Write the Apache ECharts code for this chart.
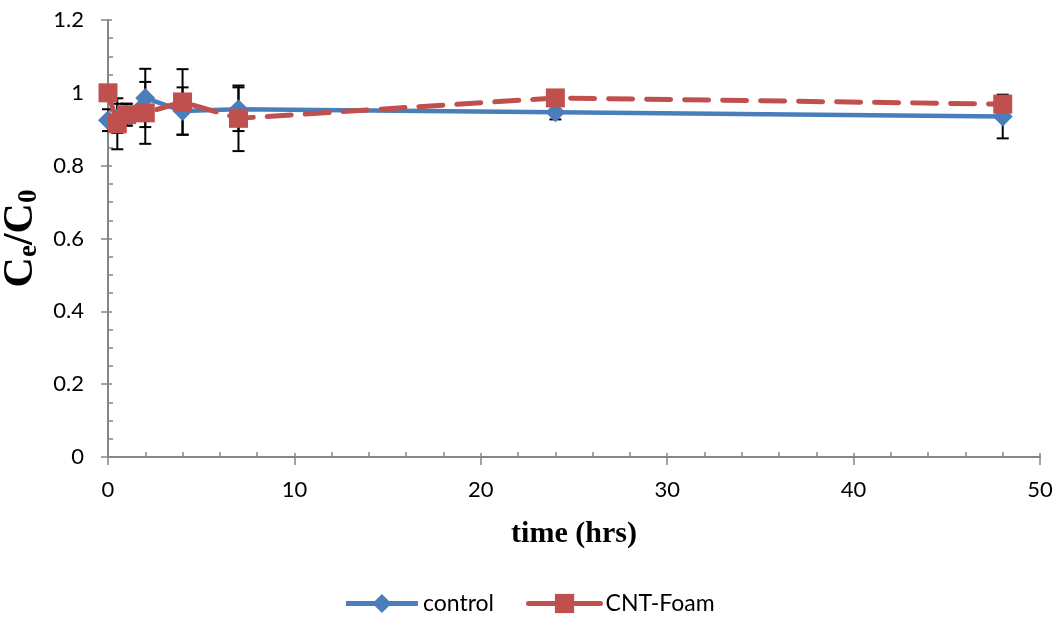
<!DOCTYPE html>
<html>
<head>
<meta charset="utf-8">
<script src="https://cdn.jsdelivr.net/npm/echarts@6/dist/echarts.min.js"></script>
<style>html,body{margin:0;padding:0;background:#fff}#c{width:1058px;height:620px}</style>
</head>
<body>
<div id="c"></div>
<script>
const timeControl = [0, 0.5, 1, 2, 4, 7, 24, 48];
const control     = [0.925, 0.93, 0.94, 0.986, 0.95, 0.955, 0.947, 0.935];
const controlErr  = [0.03, 0.04, 0.03, 0.08, 0.065, 0.06, 0.02, 0.06];

const timeCNT = [0, 0.5, 1, 2, 4, 7, 24, 48];
const cnt     = [1.0, 0.915, 0.94, 0.945, 0.975, 0.93, 0.986, 0.969];
const cntErr  = [0.02, 0.07, 0.03, 0.085, 0.09, 0.09, 0.01, 0.01];

const xTicks = [0, 10, 20, 30, 40, 50];
const yTicks = [0, 0.2, 0.4, 0.6, 0.8, 1, 1.2];

const BLUE = '#4a7ebb', RED = '#c0504d', AX = '#868686';
const labelFont = 'Lato, "Open Sans", sans-serif';
const serif = '"Liberation Serif", "Times New Roman", serif';

function errData(t, v, e) { return t.map((x, i) => [x, v[i] - e[i], v[i] + e[i]]); }
function errSeries(data) {
  return {
    type: 'custom', z: 1, silent: true,
    renderItem: function (params, api) {
      const lo = api.coord([api.value(0), api.value(1)]);
      const hi = api.coord([api.value(0), api.value(2)]);
      const w = 6;
      const st = { stroke: '#000', lineWidth: 2 };
      return { type: 'group', children: [
        { type: 'line', shape: { x1: lo[0], y1: lo[1], x2: hi[0], y2: hi[1] }, style: st },
        { type: 'line', shape: { x1: lo[0] - w, y1: lo[1], x2: lo[0] + w, y2: lo[1] }, style: st },
        { type: 'line', shape: { x1: hi[0] - w, y1: hi[1], x2: hi[0] + w, y2: hi[1] }, style: st }
      ]};
    },
    encode: { x: 0, y: [1, 2] },
    data: data
  };
}

const chart = echarts.init(document.getElementById('c'));
chart.setOption({
  animation: false,
  grid: { left: 108, right: 18, top: 20, bottom: 163, containLabel: false, outerBoundsMode: 'none' },
  legend: {
    bottom: 0, left: 'center', itemWidth: 72, itemHeight: 24, itemGap: 32,
    textStyle: { fontFamily: labelFont, fontSize: 23, color: '#000' },
    data: [
      { name: 'control', lineStyle: { width: 5 } },
      { name: 'CNT-Foam', lineStyle: { width: 5, type: 'solid' } }
    ]
  },
  xAxis: [{
    type: 'value', min: 0, max: 50, interval: 10,
    name: 'time (hrs)', nameLocation: 'middle', nameGap: 62,
    nameTextStyle: { fontFamily: serif, fontWeight: 'bold', fontSize: 30, color: '#000' },
    axisLine: { lineStyle: { color: AX, width: 2 } },
    axisTick: { show: true, inside: false, length: 8, lineStyle: { color: AX, width: 1.5 } },
    axisLabel: { fontFamily: labelFont, fontSize: 22, color: '#000', margin: 22,
      formatter: v => xTicks.includes(v) ? String(v) : '' },
    splitLine: { show: false }
  }, {
    type: 'value', min: 0, max: 50, interval: 10, position: 'bottom',
    axisLine: { show: false },
    axisTick: { show: true, inside: true, length: 4, lineStyle: { color: AX, width: 1.5 } },
    minorTick: { show: true, splitNumber: 5, length: 5, lineStyle: { color: AX, width: 1.5 } },
    axisLabel: { show: false }, splitLine: { show: false }
  }],
  yAxis: [{
    type: 'value', min: 0, max: 1.2, interval: 0.2,
    name: '{a|C}{s|e}{a|/C}{s|0}', nameLocation: 'middle', nameGap: 55, nameRotate: 90,
    nameTextStyle: { rich: {
      a: { fontFamily: serif, fontWeight: 'bold', fontSize: 42, color: '#000' },
      s: { fontFamily: serif, fontWeight: 'bold', fontSize: 27, color: '#000', verticalAlign: 'bottom', padding: [16, 0, 0, 0] }
    }},
    axisLine: { lineStyle: { color: AX, width: 2 } },
    axisTick: { show: true, inside: false, length: 7, lineStyle: { color: AX, width: 1.5 } },
    axisLabel: { fontFamily: labelFont, fontSize: 22, color: '#000', margin: 24,
      formatter: v => { const r = Math.round(v * 10) / 10; return yTicks.includes(r) ? String(r) : ''; } },
    splitLine: { show: false }
  }, {
    type: 'value', min: 0, max: 1.2, interval: 0.2, position: 'left',
    axisLine: { show: false },
    axisTick: { show: true, inside: true, length: 4, lineStyle: { color: AX, width: 1.5 } },
    minorTick: { show: true, splitNumber: 4, length: 5, lineStyle: { color: AX, width: 1.5 } },
    axisLabel: { show: false }, splitLine: { show: false }
  }],
  series: [
    errSeries(errData(timeControl, control, controlErr)),
    errSeries(errData(timeCNT, cnt, cntErr)),
    {
      name: 'control', type: 'line', z: 3,
      data: timeControl.map((t, i) => [t, control[i]]),
      symbol: 'diamond', symbolSize: 20,
      itemStyle: { color: BLUE },
      lineStyle: { color: BLUE, width: 4.5 }
    },
    {
      name: 'CNT-Foam', type: 'line', z: 4,
      data: timeCNT.map((t, i) => [t, cnt[i]]),
      symbol: 'rect', symbolSize: 19,
      itemStyle: { color: RED },
      lineStyle: { color: RED, width: 5, type: [24, 14], cap: 'round' }
    }
  ]
});
</script>
</body>
</html>
